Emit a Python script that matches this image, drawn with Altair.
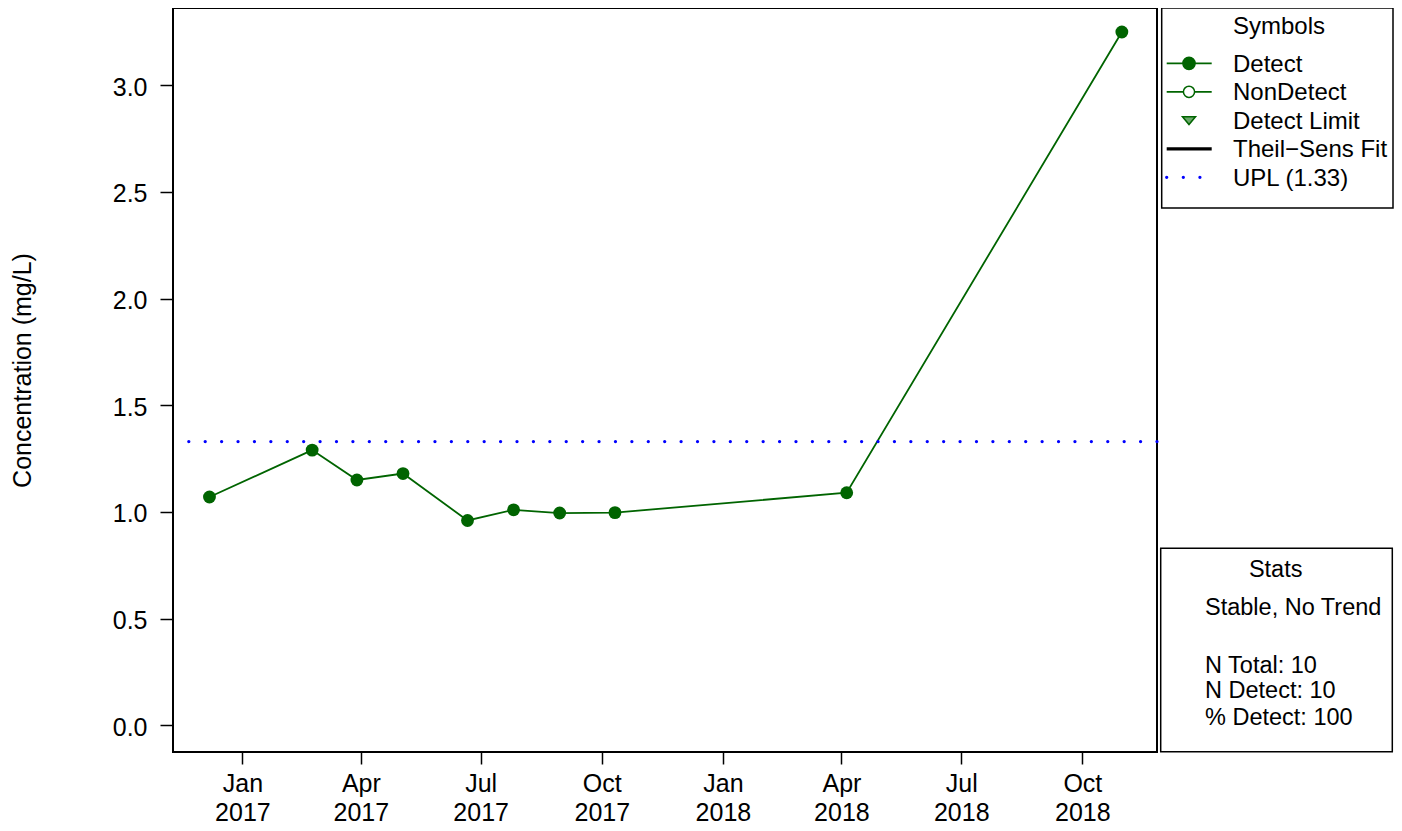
import altair as alt
import pandas as pd

# ---------------- data ----------------
dates = ["2016-12-07", "2017-02-23", "2017-03-29", "2017-05-03", "2017-06-21",
         "2017-07-26", "2017-08-30", "2017-10-11", "2018-04-05", "2018-10-31"]
values = [1.07, 1.29, 1.15, 1.18, 0.96, 1.01, 0.995, 0.997, 1.09, 3.25]
upl_value = 1.33
y_ticks = [0.0, 0.5, 1.0, 1.5, 2.0, 2.5, 3.0]
x_tick_months = [(2017, 1), (2017, 4), (2017, 7), (2017, 10),
                 (2018, 1), (2018, 4), (2018, 7), (2018, 10)]
legend_title = "Symbols"
legend_labels = ["Detect", "NonDetect", "Detect Limit", "Theil\u2212Sens Fit", f"UPL ({upl_value})"]
stats_title = "Stats"
stats_lines = ["Stable, No Trend", "N Total: 10", "N Detect: 10", "% Detect: 100"]
y_title = "Concentration (mg/L)"

GREEN = "#006400"
FONT = "Liberation Sans"

df = pd.DataFrame({"date": dates, "value": values})
upl_df = pd.DataFrame({"value": [upl_value]})
one = pd.DataFrame({"k": [0]})

x_scale = alt.Scale(
    type="utc",
    domain=[alt.DateTime(year=2016, month=11, date=9, hours=7, minutes=12, utc=True),
            alt.DateTime(year=2018, month=11, date=26, hours=16, minutes=48, utc=True)],
)
y_scale = alt.Scale(domain=[-0.1252, 3.3624], nice=False, zero=False)

x_axis = alt.Axis(
    values=[alt.DateTime(year=y, month=m, date=1, utc=True) for y, m in x_tick_months],
    labelExpr="[utcFormat(datum.value, '%b'), utcFormat(datum.value, '%Y')]",
    labelFontSize=25, labelFont=FONT, labelColor="black",
    labelBaseline="top", labelAlign="center", labelLineHeight=29,
    labelPadding=7, labelFlush=False, labelOverlap=False,
    tickSize=12, tickWidth=1.5, tickColor="black",
    domain=False, grid=False, title=None,
)
y_axis = alt.Axis(
    values=y_ticks, format=".1f",
    labelFontSize=25, labelFont=FONT, labelColor="black",
    labelPadding=13, labelOffset=2, labelFlush=False, labelOverlap=False,
    tickSize=13, tickWidth=1.5, tickColor="black",
    domain=False, grid=False,
    title=y_title, titleFont=FONT, titleFontSize=25, titleFontWeight="normal",
    titleColor="black", titleAngle=-90, titleX=-143, titleY=362,
    titleAlign="center", titleBaseline="alphabetic",
)

X = alt.X("date:T", scale=x_scale, axis=x_axis)
Y = alt.Y("value:Q", scale=y_scale, axis=y_axis)

line = alt.Chart(df).mark_line(color=GREEN, strokeWidth=1.8).encode(x=X, y=Y)
pts = alt.Chart(df).mark_circle(color=GREEN, size=165, opacity=1).encode(x=X, y=Y)
upl = alt.Chart(upl_df).mark_rule(
    color="blue", strokeDash=[0.01, 16.4], strokeCap="round", strokeWidth=3.3
).encode(y=Y)


def box(x1, x2, y1, y2):
    return alt.Chart(one).mark_rect(fill="white", stroke="black", strokeWidth=1.5).encode(
        x=alt.value(x1), x2=alt.value(x2), y=alt.value(y1), y2=alt.value(y2))


def txt(s, x, y, align="left", size=24):
    return alt.Chart(one).mark_text(
        align=align, baseline="alphabetic", fontSize=size, font=FONT, color="black"
    ).encode(x=alt.value(x), y=alt.value(y), text=alt.value(s))


def seg(x1, x2, y, color, width, dash=None):
    kw = dict(color=color, strokeWidth=width)
    if dash is not None:
        kw.update(strokeDash=dash, strokeCap="round")
    return alt.Chart(one).mark_rule(**kw).encode(
        x=alt.value(x1), x2=alt.value(x2), y=alt.value(y))


def sym(x, y, shape, fill, stroke, size):
    return alt.Chart(one).mark_point(
        shape=shape, fill=fill, stroke=stroke, strokeWidth=1.5, size=size, opacity=1, fillOpacity=1
    ).encode(x=alt.value(x), y=alt.value(y))


# legend (coordinates relative to the plot area's top-left)
lx1, lx2, lxc, ltx = 993.7, 1038.7, 1016, 1060
sym_y = [55.3, 83.8, 112.3, 140.8, 169.3]
base_y = [63.7, 92.2, 120.7, 149.2, 177.7]
legend_layers = [
    box(988.7, 1220, 0, 200),
    txt(legend_title, 1106, 26.3, align="center"),
    seg(lx1, lx2, sym_y[0], GREEN, 1.8),
    sym(lxc, sym_y[0], "circle", GREEN, GREEN, 150),
    seg(lx1, lx2, sym_y[1], GREEN, 1.8),
    sym(lxc, sym_y[1], "circle", "white", GREEN, 125),
    sym(lxc, sym_y[2], "M-1,-0.55L1,-0.55L0,0.65Z", "#6aa86a", GREEN, 170),
    seg(lx1, lx2, sym_y[3], "black", 3.2),
    seg(lx1, 1028, sym_y[4], "blue", 3.3, dash=[0.01, 16.6]),
]
for lab, by in zip(legend_labels, base_y):
    legend_layers.append(txt(lab, ltx, by))

stats_y = [607, 664.7, 690.3, 717]
stats_layers = [
    box(987.7, 1219.3, 540.3, 743.7),
    txt(stats_title, 1102.7, 568.7, align="center", size=23.5),
]
for s, yy in zip(stats_lines, stats_y):
    stats_layers.append(txt(s, 1032, yy, size=23.5))

chart = alt.layer(line, pts, upl, *legend_layers, *stats_layers).properties(
    width=984, height=744,
    autosize=alt.AutoSizeParams(type="none"),
    padding={"left": 165, "top": 0, "right": 237, "bottom": 74},
).configure(font=FONT, background="white").configure_view(stroke="black", strokeWidth=2)

chart.save("out.html", embed_options={"renderer": "svg", "actions": False})
